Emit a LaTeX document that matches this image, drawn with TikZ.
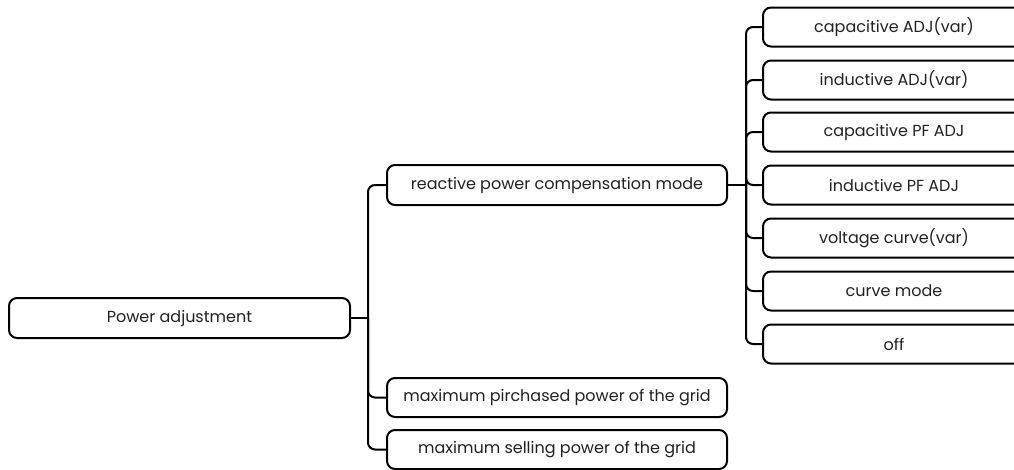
\documentclass[tikz,border=0pt]{standalone}
\usepackage{fontspec}
\setmainfont{Poppins}
\usetikzlibrary{positioning,calc}
\definecolor{txt}{HTML}{222222}

\begin{document}
\begin{tikzpicture}[x=1pt,y=-1pt,
  box/.style={draw=black,line width=2pt,rounded corners=8pt,
    minimum width=340pt,minimum height=40pt,inner sep=0pt,
    text=txt,font=\fontsize{16}{19}\selectfont},
  leaf/.style={box,minimum width=262pt,minimum height=39pt},
  conn/.style={draw=black,line width=2pt,rounded corners=7pt}]
  \clip (0,0) rectangle (1014,469);
  \node[box,minimum width=341pt] (root) at (179.5,318) {Power adjustment};
  \node[box] (react) at (557,185) {reactive power compensation mode};
  \node[box,minimum height=39pt] (buy) at (557,397.5) {maximum pirchased power of the grid};
  \node[box,minimum height=39pt] (sell) at (557,449.5) {maximum selling power of the grid};
  \coordinate (j1) at ($(root.east)+(17,0)$);
  \coordinate (j2) at ($(react.east)+(18,0)$);
  \draw[conn] (root.east) -- (j1);
  \foreach \c in {react,buy,sell} \draw[conn] (j1) |- (\c.west);
  \draw[conn] (react.east) -- (j2);
  \foreach \n/\y/\t in {capvar/27/{capacitive ADJ(var)},indvar/80/{inductive ADJ(var)},
      cappf/132/{capacitive PF ADJ},indpf/185/{inductive PF ADJ},
      volt/238/{voltage curve(var)},curve/291/{curve mode},off/344/{off}}{
    \node[leaf] (\n) at (894,\y) {\t};
    \draw[conn] (j2) |- (\n.west);
  }
\end{tikzpicture}
\end{document}
